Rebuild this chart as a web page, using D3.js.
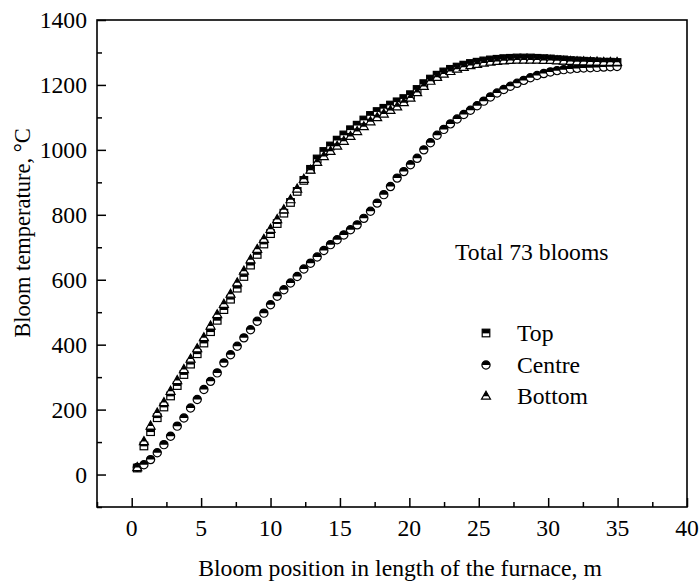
<!DOCTYPE html>
<html>
<head>
<meta charset="utf-8">
<script src="https://cdn.jsdelivr.net/npm/d3@7"></script>
<style>
  body { margin: 0; background: #fff; }
  text { font-family: "Liberation Serif", "Times New Roman", serif; fill: #000; }
</style>
</head>
<body>
<svg id="chart" width="700" height="581"></svg>
<script>
// Bloom positions along the furnace (m), one per bloom
const position = [
  0.40, 0.88, 1.36, 1.84, 2.32, 2.80, 3.28, 3.76, 4.24, 4.72,
  5.20, 5.68, 6.16, 6.64, 7.12, 7.60, 8.08, 8.56, 9.04, 9.52,
  10.00, 10.48, 10.96, 11.44, 11.92, 12.40, 12.88, 13.36, 13.84, 14.32,
  14.80, 15.28, 15.76, 16.24, 16.72, 17.20, 17.68, 18.16, 18.64, 19.12,
  19.60, 20.08, 20.56, 21.04, 21.52, 22.00, 22.48, 22.96, 23.44, 23.92,
  24.40, 24.88, 25.36, 25.84, 26.32, 26.80, 27.28, 27.76, 28.24, 28.72,
  29.20, 29.68, 30.16, 30.64, 31.12, 31.60, 32.08, 32.56, 33.04, 33.52,
  34.00, 34.48, 34.96
];

// Surface and core temperatures (°C)
const topTemp = [
  20, 88, 132, 175, 208, 242, 274, 308, 340, 372,
  405, 440, 475, 508, 540, 574, 610, 645, 678, 710,
  742, 773, 805, 838, 872, 906, 940, 972, 995, 1012,
  1030, 1046, 1062, 1076, 1092, 1106, 1118, 1128, 1138, 1148,
  1158, 1170, 1186, 1204, 1218, 1230, 1240, 1248, 1255, 1261,
  1266, 1270, 1274, 1277, 1279, 1281, 1282, 1283, 1283, 1283,
  1282, 1281, 1280, 1278, 1277, 1275, 1274, 1273, 1272, 1271,
  1270, 1270, 1269
];

const centreTemp = [
  22, 30, 46, 67, 92, 118, 149, 174, 205, 231,
  262, 287, 313, 344, 369, 395, 421, 446, 472, 497,
  523, 549, 569, 590, 610, 633, 651, 670, 690, 708,
  723, 738, 754, 769, 789, 811, 836, 862, 887, 913,
  933, 954, 974, 1000, 1022, 1045, 1063, 1080, 1095, 1109,
  1122, 1136, 1150, 1163, 1175, 1186, 1196, 1205, 1214, 1222,
  1229, 1235, 1240, 1244, 1247, 1249, 1251, 1252, 1253, 1254,
  1255, 1256, 1257
];

const bottomTemp = [
  22, 102, 150, 190, 222, 257, 290, 324, 356, 388,
  422, 458, 493, 525, 556, 591, 627, 662, 694, 725,
  756, 786, 816, 847, 880, 910, 938, 962, 980, 996,
  1012, 1027, 1042, 1057, 1072, 1087, 1100, 1111, 1122, 1133,
  1146, 1160, 1177, 1196, 1212, 1224, 1234, 1242, 1249, 1255,
  1260, 1264, 1268, 1271, 1273, 1275, 1276, 1277, 1277, 1277,
  1277, 1276, 1276, 1275, 1274, 1273, 1272, 1272, 1271, 1271,
  1270, 1270, 1270
];

const seriesNames = ["Top", "Centre", "Bottom"];
const xTicks = [0, 5, 10, 15, 20, 25, 30, 35, 40];
const xMinorTicks = [-2.5, 2.5, 7.5, 12.5, 17.5, 22.5, 27.5, 32.5, 37.5];
const yTicks = [0, 200, 400, 600, 800, 1000, 1200, 1400];
const yMinorTicks = [-100, 100, 300, 500, 700, 900, 1100, 1300];

const svg = d3.select("#chart");
const plotLeft = 97, plotRight = 687, plotTop = 20, plotBottom = 507;
const stretch = 1.03; // slight horizontal text widening

const x = d3.scaleLinear().domain([-2.5, 40]).range([plotLeft, plotRight]);
const y = d3.scaleLinear().domain([-100, 1400]).range([plotBottom, plotTop]);

// Inward ticks on the bottom and left edges
const xMajor = d3.axisTop(x).tickValues(xTicks).tickSize(9).tickFormat("");
const xMinor = d3.axisTop(x).tickValues(xMinorTicks).tickSize(5).tickFormat("");
const yMajor = d3.axisRight(y).tickValues(yTicks).tickSize(9).tickFormat("");
const yMinor = d3.axisRight(y).tickValues(yMinorTicks).tickSize(5).tickFormat("");

function styleAxis(g) {
  g.select(".domain").remove();
  g.selectAll("line").attr("stroke", "#000").attr("stroke-width", 1.5);
}
svg.append("g").attr("transform", `translate(0,${plotBottom})`).call(xMajor).call(styleAxis);
svg.append("g").attr("transform", `translate(0,${plotBottom})`).call(xMinor).call(styleAxis);
svg.append("g").attr("transform", `translate(${plotLeft},0)`).call(yMajor).call(styleAxis);
svg.append("g").attr("transform", `translate(${plotLeft},0)`).call(yMinor).call(styleAxis);

// Plot frame
svg.append("rect")
  .attr("x", plotLeft).attr("y", plotTop)
  .attr("width", plotRight - plotLeft).attr("height", plotBottom - plotTop)
  .attr("fill", "none").attr("stroke", "#000").attr("stroke-width", 1.6);

// Tick labels
svg.append("g").selectAll("text").data(xTicks).join("text")
  .attr("transform", d => `translate(${x(d)},${plotBottom + 29}) scale(${stretch},1)`)
  .attr("text-anchor", "middle")
  .style("font-size", "23px")
  .text(d => d);

svg.append("g").selectAll("text").data(yTicks).join("text")
  .attr("transform", d => `translate(${plotLeft - 10},${y(d) + 8}) scale(${stretch},1)`)
  .attr("text-anchor", "end")
  .style("font-size", "23px")
  .text(d => d);

// Axis titles
svg.append("text")
  .attr("transform", `translate(400,576) scale(${stretch},1)`)
  .attr("text-anchor", "middle")
  .style("font-size", "23px")
  .text("Bloom position in length of the furnace, m");

svg.append("text")
  .attr("transform", `translate(30,233) rotate(-90)`)
  .attr("text-anchor", "middle")
  .style("font-size", "22.5px")
  .text("Bloom temperature, °C");

// Half-filled marker drawers (upper half black, lower half white)
function drawSquare(g) {
  const s = 7.6;
  g.append("rect").attr("x", -s / 2).attr("y", -s / 2).attr("width", s).attr("height", s)
    .attr("fill", "#fff").attr("stroke", "#000").attr("stroke-width", 1.2);
  g.append("rect").attr("x", -s / 2).attr("y", -s / 2).attr("width", s).attr("height", s * 0.55)
    .attr("fill", "#000");
}
function drawCircle(g) {
  const r = 4.1;
  g.append("circle").attr("r", r).attr("fill", "#fff").attr("stroke", "#000").attr("stroke-width", 1.2);
  g.append("path").attr("d", `M${-r},0 A${r},${r} 0 0,1 ${r},0 Z`).attr("fill", "#000");
}
function drawTriangle(g) {
  const w = 9, h = 8;
  g.append("path").attr("d", `M0,${-h * 0.6} L${w / 2},${h * 0.4} L${-w / 2},${h * 0.4} Z`)
    .attr("fill", "#fff").attr("stroke", "#000").attr("stroke-width", 1.2).attr("stroke-linejoin", "miter");
  const f = 0.62; // filled fraction of the height, from the apex
  g.append("path").attr("d", `M0,${-h * 0.6} L${(w / 2) * f},${-h * 0.6 + h * f} L${-(w / 2) * f},${-h * 0.6 + h * f} Z`)
    .attr("fill", "#000");
}

const series = [
  { name: seriesNames[0], values: topTemp, draw: drawSquare },
  { name: seriesNames[1], values: centreTemp, draw: drawCircle },
  { name: seriesNames[2], values: bottomTemp, draw: drawTriangle }
];

series.forEach(s => {
  const pts = position.map((p, i) => ({ p, t: s.values[i] }));
  svg.append("g").selectAll("g").data(pts).join("g")
    .attr("transform", d => `translate(${x(d.p)},${y(d.t)})`)
    .each(function () { s.draw(d3.select(this)); });
});

// Annotation and legend
svg.append("text")
  .attr("transform", `translate(455,260) scale(${stretch},1)`)
  .style("font-size", "23px")
  .text("Total 73 blooms");

const legendY = [333, 365, 396];
series.forEach((s, i) => {
  const g = svg.append("g").attr("transform", `translate(486,${legendY[i]})`);
  s.draw(g);
  svg.append("text")
    .attr("transform", `translate(517,${legendY[i] + 8}) scale(${stretch},1)`)
    .style("font-size", "23px")
    .text(s.name);
});
</script>
</body>
</html>
